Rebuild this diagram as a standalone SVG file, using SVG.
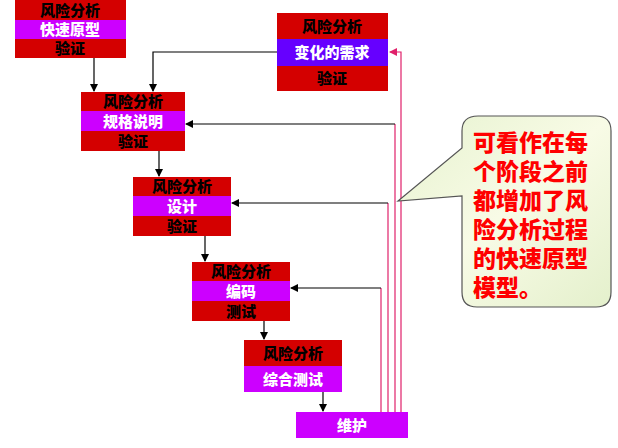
<svg xmlns="http://www.w3.org/2000/svg" width="618" height="448" viewBox="0 0 618 448">
<defs>
<style>
.r{fill:#d40000}.p{fill:#cc00ff}.b{fill:#6600ff}
.t{font-family:"Noto Sans CJK SC",sans-serif;font-weight:900;font-size:15px;text-anchor:middle}
.k{fill:#000}.w{fill:#fff}
.c{fill:none;stroke:#000;stroke-width:1.2}
.m{fill:none;stroke:#e0206a;stroke-width:1.2}
</style>
<marker id="a" markerWidth="8" markerHeight="8" refX="7" refY="4" orient="auto" markerUnits="userSpaceOnUse"><path d="M0,0L8,4L0,8z" fill="#000"/></marker>
<marker id="ap" markerWidth="8" markerHeight="8" refX="7" refY="4" orient="auto" markerUnits="userSpaceOnUse"><path d="M0,0L8,4L0,8z" fill="#e0206a"/></marker>
<linearGradient id="g" x1="0" y1="0" x2="1" y2="1"><stop offset="0" stop-color="#e6f2cf"/><stop offset="0.5" stop-color="#f8fbe6"/><stop offset="1" stop-color="#e4f0cc"/></linearGradient>
</defs>
<rect width="618" height="448" fill="#fff"/>
<g id="edges">
<path class="c" d="M94,58V91" marker-end="url(#a)"/>
<path class="c" d="M277,52H153V91" marker-end="url(#a)"/>
<path class="c" d="M159,151V176" marker-end="url(#a)"/>
<path class="c" d="M205,236V261" marker-end="url(#a)"/>
<path class="c" d="M264,321V339" marker-end="url(#a)"/>
<path class="c" d="M323,392V411" marker-end="url(#a)"/>
<path class="m" d="M401,412V52H390" marker-end="url(#ap)"/>
<path class="m" d="M395,412V124"/><path class="c" d="M395,124H186" marker-end="url(#a)"/>
<path class="m" d="M388,412V203"/><path class="c" d="M388,203H232" marker-end="url(#a)"/>
<path class="m" d="M381,412V288"/><path class="c" d="M381,288H291" marker-end="url(#a)"/>
</g>
<g id="n1"><rect class="r" x="15" y="0" width="111" height="20"/><rect class="p" x="15" y="20" width="111" height="19"/><rect class="r" x="15" y="39" width="111" height="19"/>
<text class="t k" x="70" y="16">风险分析</text><text class="t w" x="70" y="35">快速原型</text><text class="t k" x="70" y="54">验证</text></g>
<g id="n2"><rect class="r" x="277" y="13" width="111" height="26"/><rect class="b" x="277" y="39" width="111" height="27"/><rect class="r" x="277" y="66" width="111" height="25"/>
<text class="t k" x="332" y="32">风险分析</text><text class="t w" x="332" y="58">变化的需求</text><text class="t k" x="332" y="84">验证</text></g>
<g id="n3"><rect class="r" x="81" y="92" width="104" height="19"/><rect class="p" x="81" y="111" width="104" height="20"/><rect class="r" x="81" y="131" width="104" height="20"/>
<text class="t k" x="133" y="107">风险分析</text><text class="t w" x="133" y="127">规格说明</text><text class="t k" x="133" y="147">验证</text></g>
<g id="n4"><rect class="r" x="133" y="177" width="98" height="19"/><rect class="p" x="133" y="196" width="98" height="20"/><rect class="r" x="133" y="216" width="98" height="20"/>
<text class="t k" x="182" y="192">风险分析</text><text class="t w" x="182" y="212">设计</text><text class="t k" x="182" y="232">验证</text></g>
<g id="n5"><rect class="r" x="192" y="262" width="98" height="19"/><rect class="p" x="192" y="281" width="98" height="20"/><rect class="r" x="192" y="301" width="98" height="20"/>
<text class="t k" x="241" y="277">风险分析</text><text class="t w" x="241" y="297">编码</text><text class="t k" x="241" y="317">测试</text></g>
<g id="n6"><rect class="r" x="244" y="340" width="98" height="26"/><rect class="p" x="244" y="366" width="98" height="26"/>
<text class="t k" x="293" y="359">风险分析</text><text class="t w" x="293" y="385">综合测试</text></g>
<g id="n7"><rect class="p" x="296" y="412" width="112" height="26"/><text class="t w" x="352" y="431">维护</text></g>
<g id="callout">
<path d="M478,116H596Q611,116 611,131V292Q611,307 596,307H477Q462,307 462,292V196L398,201L462,148V131Q462,116 478,116Z" fill="url(#g)" stroke="#555" stroke-width="1.2"/>
<g font-family="Noto Sans CJK SC,sans-serif" font-weight="900" font-size="23" fill="#ff0000">
<text x="473" y="151">可看作在每</text><text x="473" y="180">个阶段之前</text><text x="473" y="209">都增加了风</text><text x="473" y="238">险分析过程</text><text x="473" y="267">的快速原型</text><text x="473" y="296">模型。</text>
</g></g>
</svg>
